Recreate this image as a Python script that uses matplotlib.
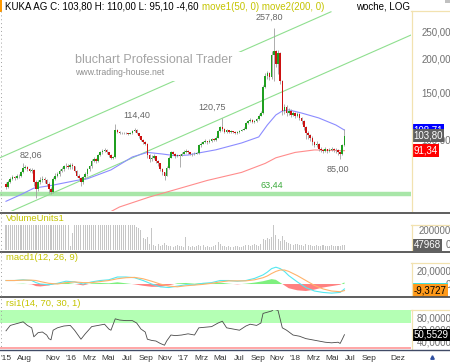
import numpy as np
import pandas as pd
import matplotlib
matplotlib.use('Agg')
import matplotlib.pyplot as plt
import matplotlib.dates as mdates
from matplotlib.lines import Line2D
from matplotlib.patches import Rectangle
from matplotlib.ticker import NullLocator

plt.rcParams['font.family'] = ['Liberation Sans', 'DejaVu Sans']

# KUKA AG weekly candles starting 2015-06-01 (open = previous close)
first_open = 69
closes = [67, 70, 72, 73, 72.5, 74, 73.5, 76, 79, 79.5,
          78, 77, 77.5, 70, 66, 70, 71.5, 72, 71, 69,
          66, 64.5, 72, 74, 75, 77, 78, 80, 80.5, 79.5,
          81, 80, 77, 74, 72.5, 70, 73, 75, 78, 80,
          84, 85, 84, 88, 90, 91, 92, 90, 88, 86,
          86.5, 109, 107, 106.5, 106, 106.5, 106, 105.5, 106, 108,
          109, 106, 103, 100, 98, 97, 88, 85, 86, 87,
          84, 82, 78, 76, 74, 79, 86, 90, 89, 87,
          88, 87.5, 89, 90.5, 91, 90, 89, 88.5, 89, 89.5,
          95.5, 97, 98.5, 99, 98, 99.5, 101, 100, 102, 108,
          112, 110, 107, 108.5, 107, 107.5, 107, 106, 107, 108,
          109, 110, 115, 117, 118, 116, 117, 119, 123, 126,
          157, 172, 176, 170, 205, 212, 190, 208, 165, 128,
          132, 126, 128, 124, 126, 123, 125, 120, 117, 112,
          106, 104, 102, 98, 96, 97, 93, 92, 91, 92.5,
          91, 92, 93, 91.5, 92, 90, 88.5, 95.5, 103.8]
highs = [70, 71, 73, 74.5, 74, 75, 75, 77, 82.06, 81,
         80.5, 79, 79, 78, 71, 71, 73, 73.5, 73, 72,
         70, 67, 73, 75.5, 76.5, 78, 79.5, 81, 82, 81.5,
         82, 82, 80.5, 77.5, 75, 73, 74, 76, 79, 81,
         85, 86.5, 86, 89, 91, 92.5, 93.5, 92.5, 90.5, 88.5,
         87.5, 114.4, 109.5, 108, 107, 107, 107, 106.5, 107, 109,
         110.5, 109.5, 106.5, 103.5, 100.5, 99, 97.5, 89, 88, 89,
         87.5, 84.5, 82.5, 79, 76.5, 80, 87, 91, 91, 89.5,
         89, 89, 90, 91.5, 92.5, 91.5, 90.5, 89.5, 90, 90.5,
         96.5, 98, 99.5, 100.5, 99.5, 100.5, 102, 101.5, 103, 109,
         113, 120.75, 111, 109.5, 109, 108.5, 108, 107.5, 108, 109,
         110, 111.5, 116, 118.5, 120, 119, 118.5, 120.5, 124.5, 128,
         159, 176, 180, 178, 212, 257.8, 215, 215, 210, 166,
         136, 134, 131, 129.5, 128, 127, 127, 125.5, 121, 118,
         113, 108, 105.5, 103, 99.5, 99, 97.5, 94.5, 93, 94,
         93, 93.5, 94.5, 93.5, 93.5, 92.5, 91, 96.5, 110]
lows = [66, 66.5, 69.5, 71, 71.5, 72, 72.5, 73, 75.5, 78,
        77, 76, 75.5, 68, 61, 65, 69, 70, 69.5, 67.5,
        64, 63.44, 64, 71, 73, 74, 76, 77, 79, 78,
        78.5, 78.5, 76, 73, 71, 68, 69, 72, 74, 77,
        79, 83, 82, 83, 87, 89, 90, 89, 86.5, 85,
        85, 86, 106, 105.5, 105, 105.5, 105, 104.5, 105, 105.5,
        107, 105, 101.5, 99, 96.5, 95.5, 86, 83, 83.5, 85,
        82.5, 80.5, 77, 74.5, 71, 73.5, 78.5, 85.5, 88, 86,
        86.5, 79.5, 87, 88.5, 89.5, 89, 88, 87.5, 88, 88.5,
        89, 94.5, 96.5, 97.5, 97, 97.5, 98.5, 99, 99.5, 101.5,
        107, 108, 106, 106.5, 106, 106, 106, 105, 105.5, 106.5,
        107.5, 108.5, 109.5, 114, 116, 115, 115, 116, 118, 122,
        125, 155, 168, 166, 168, 165, 185, 175, 160, 124,
        125, 123, 124, 121, 122, 120, 121, 118, 114, 109,
        101, 101, 99, 96, 94, 94.5, 91, 90.5, 89.5, 90,
        89.5, 90, 91, 90, 89.5, 88, 85, 88, 95.1]

# weekly volume in thousand units
volume_k = [520, 610, 480, 450, 700, 390, 430, 560, 640, 500,
            470, 380, 720, 900, 850, 560, 480, 420, 400, 460,
            520, 600, 450, 380, 360, 400, 340, 420, 390, 330,
            40, 170, 280,
            420, 380, 460, 400, 350, 330, 360, 300, 320, 410,
            380, 350, 300, 340, 310, 330, 360, 900, 800, 650,
            480, 420, 380, 350, 330, 300, 290,
            260, 230, 220, 200, 120, 110, 130, 60, 220,
            50, 40, 60, 45, 55, 70, 50, 45, 40, 35, 40, 55, 45, 40, 35,
            130,
            40, 35, 45, 30, 40, 55, 45, 50, 35, 40, 30, 35, 45, 50, 80,
            60, 45, 40, 35, 40, 30, 35, 40, 45, 30, 35, 40, 50, 55, 45,
            50, 60, 55, 45, 60,
            110, 100, 120, 115, 130, 250, 150, 110, 90, 140, 100, 80,
            70, 60, 55, 65, 60, 50, 55, 45, 60, 55, 50, 45, 40, 50,
            45, 40, 50, 45, 40, 45, 50, 40, 45, 40, 45, 55, 47.968]

# moving averages (week index, value)
ma50_idx = [0, 7, 13, 21, 33, 38, 49, 59, 66, 73, 79, 85, 88, 98, 110, 118, 122, 126, 129, 132, 138, 146, 154, 158]
ma50_vals = [59.5, 63, 66.5, 68, 71, 72, 77.6, 86.6, 90, 88.8, 87.5, 88, 89, 92, 97.5, 102.6, 113.5, 123.6, 127.8, 129, 125.6, 120.5, 113.5, 108.71]
ma200_idx = [44, 53, 67, 80, 94, 110, 121, 126, 135, 144, 158]
ma200_vals = [52, 56.7, 61.7, 66, 71, 76, 82, 86, 90, 91.9, 91.34]

# trend channel anchors
channel_dates = [['2015-05-12', '2018-04-28'], ['2015-05-12', '2019-01-14']]
channel_prices = [[86.0, 296.0], [52.4, 243.0]]
support = 63.44

macd_idx = [0, 4, 8, 12, 14, 16, 20, 22, 24, 28, 32, 36, 40, 44, 48, 52, 56, 60, 64, 68,
            72, 76, 80, 84, 88, 92, 96, 100, 104, 108, 112, 116, 120, 122, 124, 126, 128, 130, 132, 136,
            140, 144, 148, 152, 156, 158]
macd_vals = [5, 5, 6, 5, 2, 0, -1, 0, 1, 4, 3, 0, 3, 5, 6, 10, 10, 9, 5, 0,
             -4, -5, -3, -1, -1, 1, 2, 5, 5, 4, 5, 8, 13, 17, 22, 24, 22, 18, 12, 3,
             -5, -10, -12, -13, -12, -7]
signal_vals = [5, 5, 5.5, 5.5, 5, 3.5, 1, 0.5, 0, 2, 3, 2, 2, 3.5, 5, 7.5, 9, 9.5, 7.5, 4,
               0, -3, -4, -2.5, -1.5, -0.5, 1, 3, 4.5, 4.5, 4.5, 6, 9, 11.5, 15, 18, 20, 20, 18, 12,
               5, -2, -7, -10, -11, -9.3727]

rsi_idx = [0, 2, 4, 6, 8, 10, 12, 13, 15, 17, 19, 20, 21, 22, 24, 27, 30, 32, 34, 35,
           37, 40, 43, 46, 48, 49, 51, 53, 56, 59, 61, 63, 65, 66, 68, 70, 72, 74, 75, 77,
           79, 82, 85, 88, 90, 93, 96, 99, 101, 103, 106, 109, 112, 114, 117, 119, 120, 122, 124, 125,
           127, 129, 131, 134, 137, 140, 143, 146, 149, 152, 155, 156, 157, 158]
rsi_vals = [57, 66, 68, 70, 72, 66, 62, 47, 54, 55, 50, 44, 42, 58, 62, 65, 66, 58, 48, 43,
            52, 64, 66, 68, 60, 58, 77, 75, 74, 74, 70, 60, 55, 43, 41, 40, 36, 33, 40, 50,
            49, 50, 52, 50, 62, 63, 64, 70, 73, 62, 60, 58, 65, 68, 66, 70, 86, 88, 90, 93,
            91, 62, 58, 50, 48, 44, 42, 40, 38, 37, 38, 36, 43, 50.5529]

month_ticks = ['2015-06-01', '2015-08-01', '2015-11-01', '2016-01-01', '2016-03-01', '2016-05-01',
               '2016-07-01', '2016-09-01', '2016-11-01', '2017-01-01', '2017-03-01', '2017-05-01',
               '2017-07-01', '2017-09-01', '2017-11-01', '2018-01-01', '2018-03-01', '2018-05-01',
               '2018-07-01', '2018-09-01', '2018-12-01']
month_labels = ["'15", 'Aug', 'Nov', "'16", 'Mrz', 'Mai', 'Jul', 'Sep', 'Nov', "'17", 'Mrz', 'Mai',
                'Jul', 'Sep', 'Nov', "'18", 'Mrz', 'Mai', 'Jul', 'Sep', 'Dez']

W, H = 450, 363
fig = plt.figure(figsize=(4.5, 3.63), dpi=100)
fig.patch.set_facecolor('white')


def box(x0, y0, x1, y1):
    return [x0 / W, 1 - y1 / H, (x1 - x0) / W, (y1 - y0) / H]


def fy(y):
    return 1 - y / H


def comma(v, d):
    return f'{v:.{d}f}'.replace('.', ',')


dates = pd.date_range('2015-06-01', periods=len(closes), freq='7D')
xd = mdates.date2num(dates)
opens = [first_open] + closes[:-1]
start = mdates.date2num(pd.Timestamp('2015-06-01'))
px_day = 0.306
xlim = (start - 6 / px_day, start + 405 / px_day)


def clean(a):
    for s in a.spines.values():
        s.set_visible(False)
    a.set_xlim(xlim)
    a.tick_params(axis='x', bottom=False, labelbottom=False)
    a.yaxis.tick_right()
    a.tick_params(axis='y', length=0, pad=29, labelsize=7, labelcolor='#707070')
    a.patch.set_alpha(0)


def right_labels(a):
    for lab in a.get_yticklabels():
        lab.set_horizontalalignment('right')


def tag(a, val, text, bg, fg='white', z=10):
    a.text(1.006, val, text, transform=a.get_yaxis_transform(), fontsize=7, color=fg,
           ha='left', va='center', clip_on=False, zorder=z,
           bbox=dict(boxstyle='square,pad=0.12', fc=bg, ec='none'))


# ---- main price panel
ax = fig.add_axes(box(0, 11, 411, 211))
clean(ax)
ax.set_yscale('log')
ax.set_ylim(54.8, 298)
ax.yaxis.set_minor_locator(NullLocator())
ax.set_yticks([100, 150, 200, 250])
ax.set_yticklabels([comma(v, 2) for v in [100, 150, 200, 250]])
right_labels(ax)

ax.axhline(support, color='#a8e6a8', lw=3.2, zorder=1)
for dd, pp in zip(channel_dates, channel_prices):
    ax.plot(mdates.date2num(pd.to_datetime(dd)), pp, color='#8fdf8f', lw=0.8, zorder=1)
ax.plot(xd[ma200_idx], ma200_vals, color='#ff8c8c', lw=0.8, zorder=2)
ax.plot(xd[ma50_idx], ma50_vals, color='#8c8cff', lw=0.8, zorder=2)

o = np.array(opens, dtype=float)
c = np.array(closes, dtype=float)
up = c >= o
ax.vlines(xd, lows, highs, color='#a0a0a0', lw=0.6, zorder=3)
ax.bar(xd, np.abs(c - o), bottom=np.minimum(o, c), width=5.2,
       color=np.where(up, '#1f9f1f', '#cc1111'), linewidth=0, zorder=4)

ann_kw = dict(textcoords='offset pixels', fontsize=6.5, color='#666666', ha='center', va='center')
ax.annotate('82,06', (xd[8], highs[8]), xytext=(8, 8), **ann_kw)
ax.annotate('114,40', (xd[51], highs[51]), xytext=(22, 9), **ann_kw)
ax.annotate('120,75', (xd[101], highs[101]), xytext=(-10, 10), **ann_kw)
ax.annotate('257,80', (xd[125], highs[125]), xytext=(-4, 11), **ann_kw)
ax.annotate('85,00', (xd[156], lows[156]), xytext=(-2, -10), **ann_kw)
ax.text(start + 266 / px_day, support * 1.03, comma(support, 2), fontsize=6.5, color='#3daa3d',
        ha='center', va='bottom')

tag(ax, ma50_vals[-1], comma(ma50_vals[-1], 2), '#0000ff')
tag(ax, closes[-1], comma(closes[-1], 2), '#606060', z=11)
tag(ax, ma200_vals[-1], comma(ma200_vals[-1], 2), '#ff0000')

# ---- volume panel
av = fig.add_axes(box(0, 225, 411, 250))
clean(av)
av.set_ylim(0, 250000)
av.bar(xd, np.array(volume_k) * 1000, width=3.4, color='#c6c6c6', linewidth=0)
av.set_yticks([0, 200000])
av.set_yticklabels(['0', '200000'])
right_labels(av)
av.get_yticklabels()[0].set_verticalalignment('bottom')
tag(av, volume_k[-1] * 1000, '47968', '#606060')

# ---- macd panel
am = fig.add_axes(box(0, 263, 411, 296))
clean(am)
am.set_ylim(-17.1, 30)
mx = xd[macd_idx]
hist = np.array(macd_vals) - np.array(signal_vals)
am.fill_between(mx, hist, 0, where=hist >= 0, interpolate=True, color='#7ef07e', lw=0)
am.fill_between(mx, hist, 0, where=hist < 0, interpolate=True, color='#ff8080', lw=0)
am.plot(mx, macd_vals, color='#55e8f0', lw=0.8)
am.plot(mx, signal_vals, color='#ffb36b', lw=0.8)
am.set_yticks([0, 20])
am.set_yticklabels(['0', '20,0000'])
right_labels(am)
tag(am, macd_vals[-1], '-9,3727', '#40e0e0', fg='#40e0e0', z=9)
tag(am, signal_vals[-1], '-9,3727', '#ff9a1a', fg='black', z=10)

# ---- rsi panel
ar = fig.add_axes(box(0, 310, 411, 349))
clean(ar)
ar.set_ylim(26.7, 91.7)
ar.axhspan(70, 100, color='#b4ffb4', lw=0)
ar.axhspan(0, 30, color='#ffa8a8', lw=0)
ar.plot(xd[rsi_idx], rsi_vals, color='#4a4a4a', lw=0.6)
ar.set_yticks([40, 60, 80])
ar.set_yticklabels(['40,0000', '60,0000', '80,0000'])
right_labels(ar)
tag(ar, rsi_vals[-1], comma(rsi_vals[-1], 4), 'black')
ar.set_xticks(mdates.date2num(pd.to_datetime(month_ticks)))
ar.set_xticklabels(month_labels)
ar.tick_params(axis='x', bottom=False, labelbottom=True, labelsize=6, labelcolor='#333333', pad=1)

# ---- frame lines, headers and watermark
for y0, y1 in [(11, 211), (225, 251), (263, 296), (310, 349)]:
    fig.add_artist(Line2D([411.5 / W, 411.5 / W], [fy(y0), fy(y1)], color='#f2e2b0', lw=0.9))
    fig.add_artist(Line2D([411 / W, 1], [fy(y0), fy(y0)], color='#f2e2b0', lw=0.9))
for y in [212.5, 252, 297]:
    fig.add_artist(Line2D([0, 1], [fy(y), fy(y)], color='#505050', lw=1.3))
fig.add_artist(Line2D([0, 1], [fy(349.5), fy(349.5)], color='#404a66', lw=1.0))
fig.add_artist(Line2D([0.5 / W, 0.5 / W], [fy(11), fy(349)], color='#a0a0a0', lw=0.7,
                      linestyle=(0, (1, 3))))
fig.add_artist(Rectangle((0, fy(12)), 2 / W, 12 / H, color='#ff9900', lw=0))
fig.add_artist(Rectangle((445 / W, fy(3)), 5 / W, 3 / H, color='#c0c0c0', lw=0))

fig.text(5 / W, fy(6.5), 'KUKA AG C: 103,80 H: 110,00 L: 95,10 -4,60', fontsize=7, color='black',
         va='center')
fig.text(202 / W, fy(6.5), 'move1(50, 0) move2(200, 0)', fontsize=7, color='#c4c400', va='center')
fig.text(356 / W, fy(6.5), 'woche, LOG', fontsize=7, color='black', va='center')
fig.text(6 / W, fy(218.5), 'VolumeUnits1', fontsize=6.8, color='#c4c400', va='center')
fig.text(6 / W, fy(258), 'macd1(12, 26, 9)', fontsize=6.8, color='#c4c400', va='center')
fig.text(6 / W, fy(303.5), 'rsi1(14, 70, 30, 1)', fontsize=6.8, color='#c4c400', va='center')

fig.add_artist(Rectangle((74 / W, fy(81)), 168 / W, 29 / H, color='white', lw=0))
fig.text(75 / W, fy(60), 'bluchart Professional Trader', fontsize=9, color='#a4a4a4', va='center')
fig.text(75 / W, fy(72.5), 'www.trading-house.net', fontsize=6.3, color='#909090', va='center')
fig.add_artist(Line2D([432 / W], [fy(357)], marker='^', markersize=2.5, color='#3050a0', lw=0))

fig.savefig('out.png', dpi=100)
